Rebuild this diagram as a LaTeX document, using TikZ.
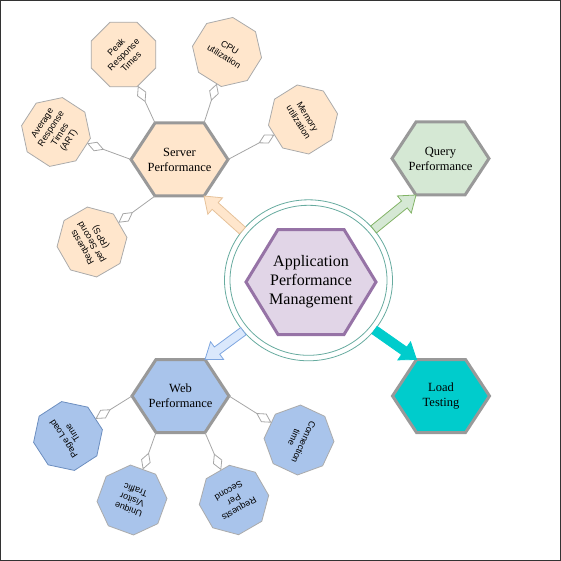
\documentclass[tikz,border=0pt]{standalone}
\usepackage{fontspec}
\setmainfont{Liberation Serif}
\newfontfamily\octfont{Liberation Sans}
\usetikzlibrary{shapes.geometric,arrows.meta,calc}
\pgfdeclarelayer{bg}
\pgfsetlayers{bg,main}
\definecolor{srvF}{HTML}{FFE6CC}
\definecolor{srvA}{HTML}{E6C29A}
\definecolor{qF}{HTML}{D5E8D4}
\definecolor{qA}{HTML}{82B366}
\definecolor{webF}{HTML}{A9C4EB}
\definecolor{webAF}{HTML}{DAE8FC}
\definecolor{webA}{HTML}{7EA6E0}
\definecolor{webO}{HTML}{6C8EBF}
\definecolor{loadF}{HTML}{00CCCC}
\definecolor{apmF}{HTML}{E1D5E7}
\definecolor{apmS}{HTML}{9673A6}
\definecolor{ringC}{HTML}{67AB9F}
\definecolor{hexS}{HTML}{999999}
\definecolor{octS}{HTML}{ABABAB}
\definecolor{connC}{HTML}{A6A6A6}
\definecolor{frameC}{HTML}{333333}

\tikzset{
  hexbox/.style={rectangle, inner sep=0pt, outer sep=0pt, minimum width=97pt, minimum height=73pt, align=center, font=\fontsize{12.5}{15}\selectfont},
  hexline/.style={line width=3pt, draw=hexS, line join=miter},
  oct/.style={regular polygon, regular polygon sides=8, minimum size=70pt, inner sep=0pt, outer sep=0pt, draw=octS, line width=0.8pt, align=center, font=\octfont\fontsize{9}{10.5}\selectfont},
  conn/.style={draw=connC, line width=0.8pt, -{Diamond[open,length=18pt,width=10pt]}},
  ringline/.style={ellipse, draw=ringC, line width=0.8pt, inner sep=0pt, outer sep=0pt},
}

\newcommand\drawhex[3]{%
  \draw[#3] (#1.west) -- ($(#1.north west)+(#2,0)$) -- ($(#1.north east)+(-#2,0)$) -- (#1.east) -- ($(#1.south east)+(-#2,0)$) -- ($(#1.south west)+(#2,0)$) -- cycle;}

\newcommand\blockarrow[3]{%
  \coordinate (bk) at ($(#2)!15pt!(#1)$);
  \draw[#3, line join=miter] ($(#1)!4.5pt!90:(#2)$) -- ($(bk)!4.5pt!90:(#2)$) -- ($(bk)!11pt!90:(#2)$) -- (#2) -- ($(bk)!11pt!-90:(#2)$) -- ($(bk)!4.5pt!-90:(#2)$) -- ($(#1)!4.5pt!-90:(#2)$) -- cycle;}

\begin{document}
\begin{tikzpicture}[x=1pt,y=-1pt]
\useasboundingbox (0,0) rectangle (561,561);
\draw[frameC, line width=1pt] (0.5,0.5) rectangle (560.5,560.5);

% ring
\node[ringline, minimum width=168pt, minimum height=161pt] (ring) at (308.5,280.3) {};
\node[ringline, minimum width=157pt, minimum height=150pt] (ringin) at (308.5,280.3) {};

% hexagon labels
\node[hexbox, minimum width=130pt, minimum height=105pt, font=\fontsize{16}{19}\selectfont] (apm) at (311,282) {Application\\Performance\\Management};
\node[hexbox] (srv) at (179.5,159.5) {Server\\Performance};
\node[hexbox] (qry) at (440.5,158.5) {Query\\Performance};
\node[hexbox] (web) at (180.5,396) {Web\\Performance};
\node[hexbox] (load) at (441,396) {Load\\Testing};

\begin{pgfonlayer}{bg}
  \drawhex{apm}{32}{fill=apmF, draw=apmS, line width=3pt, line join=miter}
  \drawhex{srv}{24}{hexline, fill=srvF}
  \drawhex{qry}{24}{hexline, fill=qF}
  \drawhex{web}{24}{hexline, fill=webF}
  \drawhex{load}{24}{hexline, fill=loadF}
\end{pgfonlayer}

% hexagon corners
\coordinate (srv-tl) at ($(srv.north west)+(24,0)$);
\coordinate (srv-tr) at ($(srv.north east)+(-24,0)$);
\coordinate (srv-bl) at ($(srv.south west)+(24,0)$);
\coordinate (srv-br) at ($(srv.south east)+(-24,0)$);
\coordinate (qry-bl) at ($(qry.south west)+(24,0)$);
\coordinate (web-tr) at ($(web.north east)+(-24,0)$);
\coordinate (web-bl) at ($(web.south west)+(24,0)$);
\coordinate (web-br) at ($(web.south east)+(-24,0)$);
\coordinate (load-tl) at ($(load.north west)+(24,0)$);

% block arrows
\blockarrow{ring.143}{srv-br}{fill=srvF, draw=srvA, line width=0.8pt}
\blockarrow{ring.38}{qry-bl}{fill=qF, draw=qA, line width=0.8pt}
\blockarrow{ring.218}{web-tr}{fill=webAF, draw=webA, line width=0.8pt}
\blockarrow{ring.323}{load-tl}{fill=loadF, draw=loadF, line width=0.8pt}

% server octagons
\node[oct, fill=srvF, rotate=45] (peak) at (123.5,54.5) {Peak\\Response\\Times};
\node[oct, fill=srvF, rotate=-32] (cpu) at (227,52) {CPU\\utilization};
\node[oct, fill=srvF, rotate=-58] (mem) at (303,119.5) {Memory\\utilization};
\node[oct, fill=srvF, rotate=57] (art) at (56,132) {Average\\Response\\Times\\(ART)};
\node[oct, fill=srvF, rotate=120] (rps) at (92,242) {Requests\\per Second\\(RPS)};

% web octagons
\node[oct, fill=webF, draw=webO, rotate=123] (page) at (68,436) {Page Load\\Time};
\node[oct, fill=webF, rotate=160] (uniq) at (132,500) {Unique\\Visitor\\Traffic};
\node[oct, fill=webF, rotate=210] (reqs) at (234,500) {Requests\\Per\\Second};
\node[oct, fill=webF, rotate=-115] (connt) at (299,440) {Connection\\time};

% connectors
\draw[conn] (srv-tl) -- (peak);
\draw[conn] (srv-tr) -- (cpu);
\draw[conn] (srv.east) -- (mem);
\draw[conn] (srv.west) -- (art);
\draw[conn] (srv-bl) -- (rps);
\draw[conn] (web.west) -- (page);
\draw[conn] (web-bl) -- (uniq);
\draw[conn] (web-br) -- (reqs);
\draw[conn] (web.east) -- (connt);
\end{tikzpicture}
\end{document}
